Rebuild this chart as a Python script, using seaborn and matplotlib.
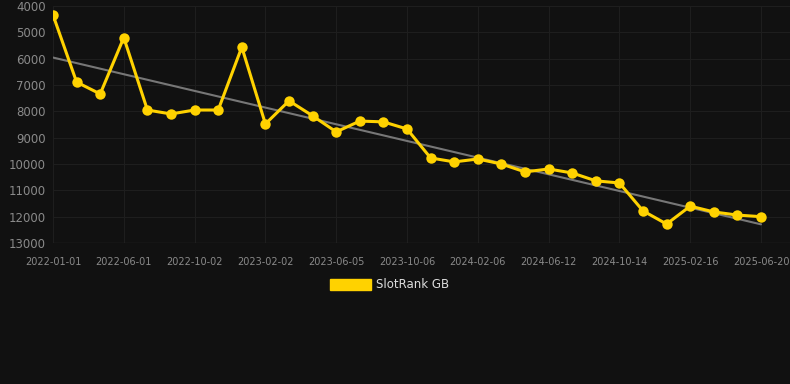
import numpy as np
import pandas as pd
import matplotlib
matplotlib.use("Agg")
import matplotlib.pyplot as plt
import matplotlib.patches as mpatches
import seaborn as sns

# Data
tick_labels = ["2022-01-01", "2022-06-01", "2022-10-02", "2023-02-02", "2023-06-05",
               "2023-10-06", "2024-02-06", "2024-06-12", "2024-10-14", "2025-02-16",
               "2025-06-20"]
rank_values = [4340, 6890, 7340, 5200, 7950, 8100, 7950, 7950, 5560, 8480,
               7600, 8170, 8780, 8370, 8400, 8670, 9770, 9920, 9810, 10000,
               10300, 10190, 10340, 10640, 10720, 11780, 12280, 11600, 11820, 11940,
               12000]
series_name = "SlotRank GB"

df = pd.DataFrame({"idx": np.arange(len(rank_values)), "rank": rank_values})

bg = "#111111"
gold = "#FFD200"

sns.set_theme(style="dark")
plt.rcParams["font.family"] = ["DejaVu Sans"]

fig = plt.figure(figsize=(7.9, 3.84), dpi=100, facecolor=bg)
ax = fig.add_axes([53 / 790, 1 - 243 / 384, 1 - 53 / 790, (243 - 6) / 384])
ax.set_facecolor(bg)

sns.regplot(data=df, x="idx", y="rank", scatter=False, ci=None, ax=ax,
            line_kws={"color": "#777777", "linewidth": 1.5, "zorder": 2})
sns.lineplot(data=df, x="idx", y="rank", ax=ax, color=gold, linewidth=2.2,
             marker="o", markersize=7.5, markeredgewidth=0, zorder=3)

ax.set_ylim(13000, 4000)
ax.set_xlim(0, 30 + 29 / 23.6)
ax.set_yticks(np.arange(4000, 13001, 1000))
ax.set_yticklabels([str(v) for v in range(4000, 13001, 1000)], fontsize=8.5, color="#8a8a8a")
ax.set_xticks(np.arange(0, len(rank_values), 3))
ax.set_xticklabels(tick_labels, fontsize=7, color="#8a8a8a")
ax.tick_params(axis="both", length=0)
ax.tick_params(axis="x", pad=10)
ax.tick_params(axis="y", pad=5)
ax.grid(True, color="#1e1e1e", linewidth=0.8)
ax.set_xlabel("")
ax.set_ylabel("")
for s in ax.spines.values():
    s.set_visible(False)
ax.axhline(13000, color="#2a2a2a", linewidth=1, zorder=1)

handle = mpatches.Patch(color=gold, label=series_name)
fig.legend(handles=[handle], loc="center", bbox_to_anchor=(390 / 790, 1 - 285 / 384),
           frameon=False, fontsize=8.5, labelcolor="#dddddd", handlelength=3.4,
           handleheight=1.1, handletextpad=0.5)

fig.savefig("out.png", dpi=100, facecolor=bg)
